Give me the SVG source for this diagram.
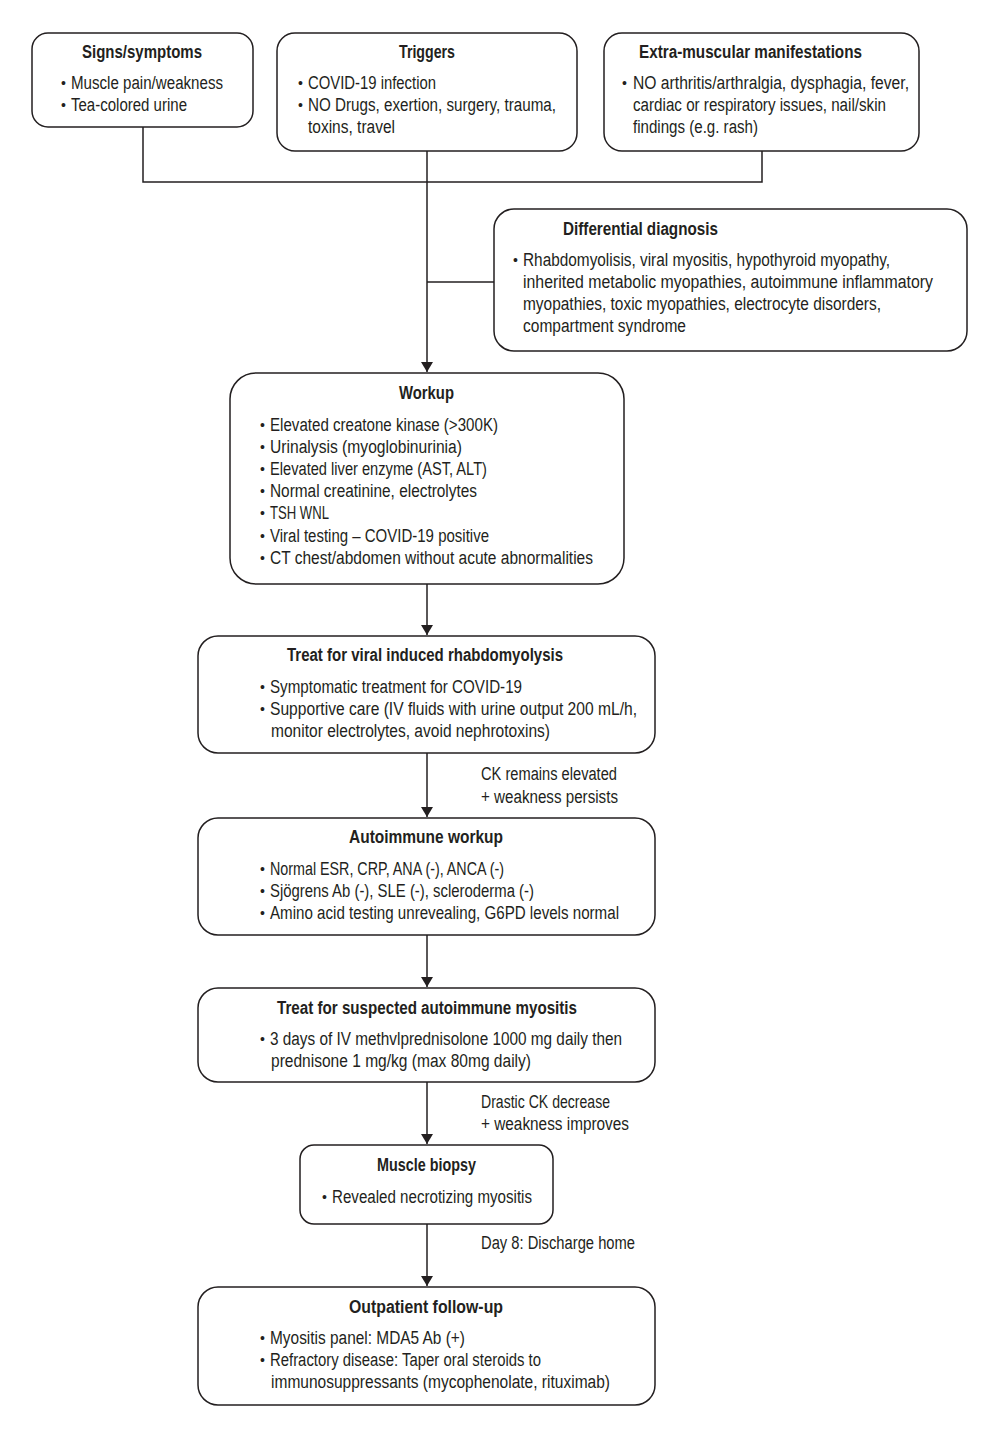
<svg xmlns="http://www.w3.org/2000/svg" width="1000" height="1440" viewBox="0 0 1000 1440">
<style>
text{font-family:'Liberation Sans',Arial,sans-serif;font-size:18px;fill:#231f20}
.t{font-weight:bold}
.b{font-size:14px}
.box{fill:#fff;stroke:#231f20;stroke-width:1.5}
.ln{fill:none;stroke:#231f20;stroke-width:1.5}
</style>
<defs>
<marker id="ah" markerWidth="10" markerHeight="12" refX="10" refY="6" orient="auto" markerUnits="userSpaceOnUse">
<path d="M0,0 L10,6 L0,12 Z" fill="#231f20"/>
</marker>
</defs>
<rect width="1000" height="1440" fill="#fff"/>
<g id="connectors">
<path class="ln" d="M143,127 V182 H762 V151"/>
<path class="ln" d="M427,151 V372" marker-end="url(#ah)"/>
<path class="ln" d="M427,282 H494"/>
<path class="ln" d="M427,584 V635" marker-end="url(#ah)"/>
<path class="ln" d="M427,753 V817" marker-end="url(#ah)"/>
<path class="ln" d="M427,935 V987" marker-end="url(#ah)"/>
<path class="ln" d="M427,1082 V1144" marker-end="url(#ah)"/>
<path class="ln" d="M427,1224 V1286" marker-end="url(#ah)"/>
<text x="481" y="780" textLength="136" lengthAdjust="spacingAndGlyphs">CK remains elevated</text>
<text x="481" y="803" textLength="137" lengthAdjust="spacingAndGlyphs">+ weakness persists</text>
<text x="481" y="1108" textLength="129" lengthAdjust="spacingAndGlyphs">Drastic CK decrease</text>
<text x="481" y="1130" textLength="148" lengthAdjust="spacingAndGlyphs">+ weakness improves</text>
<text x="481" y="1249" textLength="154" lengthAdjust="spacingAndGlyphs">Day 8: Discharge home</text>
</g>
<g id="signs">
<rect class="box" x="32" y="33" width="221" height="94" rx="16"/>
<text class="t" x="82" y="58" textLength="120" lengthAdjust="spacingAndGlyphs">Signs/symptoms</text>
<text class="b" x="61" y="88">•</text><text x="71" y="89" textLength="152" lengthAdjust="spacingAndGlyphs">Muscle pain/weakness</text>
<text class="b" x="61" y="110">•</text><text x="71" y="111" textLength="116" lengthAdjust="spacingAndGlyphs">Tea-colored urine</text>
</g>
<g id="triggers">
<rect class="box" x="277" y="33" width="300" height="118" rx="18"/>
<text class="t" x="399" y="58" textLength="56" lengthAdjust="spacingAndGlyphs">Triggers</text>
<text class="b" x="298" y="88">•</text><text x="308" y="89" textLength="128" lengthAdjust="spacingAndGlyphs">COVID-19 infection</text>
<text class="b" x="298" y="110">•</text><text x="308" y="111" textLength="248" lengthAdjust="spacingAndGlyphs">NO Drugs, exertion, surgery, trauma,</text>
<text x="308" y="133" textLength="87" lengthAdjust="spacingAndGlyphs">toxins, travel</text>
</g>
<g id="extra">
<rect class="box" x="604" y="33" width="315" height="118" rx="18"/>
<text class="t" x="639" y="58" textLength="223" lengthAdjust="spacingAndGlyphs">Extra-muscular manifestations</text>
<text class="b" x="622" y="88">•</text><text x="633" y="89" textLength="276" lengthAdjust="spacingAndGlyphs">NO arthritis/arthralgia, dysphagia, fever,</text>
<text x="633" y="111" textLength="253" lengthAdjust="spacingAndGlyphs">cardiac or respiratory issues, nail/skin</text>
<text x="633" y="133" textLength="125" lengthAdjust="spacingAndGlyphs">findings (e.g. rash)</text>
</g>
<g id="differential">
<rect class="box" x="494" y="209" width="473" height="142" rx="20"/>
<text class="t" x="563" y="235" textLength="155" lengthAdjust="spacingAndGlyphs">Differential diagnosis</text>
<text class="b" x="513" y="265">•</text><text x="523" y="266" textLength="367" lengthAdjust="spacingAndGlyphs">Rhabdomyolisis, viral myositis, hypothyroid myopathy,</text>
<text x="523" y="288" textLength="410" lengthAdjust="spacingAndGlyphs">inherited metabolic myopathies, autoimmune inflammatory</text>
<text x="523" y="310" textLength="358" lengthAdjust="spacingAndGlyphs">myopathies, toxic myopathies, electrocyte disorders,</text>
<text x="523" y="332" textLength="163" lengthAdjust="spacingAndGlyphs">compartment syndrome</text>
</g>
<g id="workup">
<rect class="box" x="230" y="373" width="394" height="211" rx="26"/>
<text class="t" x="399" y="399" textLength="55" lengthAdjust="spacingAndGlyphs">Workup</text>
<text class="b" x="260" y="430">•</text><text x="270" y="431" textLength="228" lengthAdjust="spacingAndGlyphs">Elevated creatone kinase (&gt;300K)</text>
<text class="b" x="260" y="452">•</text><text x="270" y="453" textLength="192" lengthAdjust="spacingAndGlyphs">Urinalysis (myoglobinurinia)</text>
<text class="b" x="260" y="474">•</text><text x="270" y="475" textLength="217" lengthAdjust="spacingAndGlyphs">Elevated liver enzyme (AST, ALT)</text>
<text class="b" x="260" y="496">•</text><text x="270" y="497" textLength="207" lengthAdjust="spacingAndGlyphs">Normal creatinine, electrolytes</text>
<text class="b" x="260" y="518">•</text><text x="270" y="519" textLength="59" lengthAdjust="spacingAndGlyphs">TSH WNL</text>
<text class="b" x="260" y="541">•</text><text x="270" y="542" textLength="219" lengthAdjust="spacingAndGlyphs">Viral testing – COVID-19 positive</text>
<text class="b" x="260" y="563">•</text><text x="270" y="564" textLength="323" lengthAdjust="spacingAndGlyphs">CT chest/abdomen without acute abnormalities</text>
</g>
<g id="treat-viral">
<rect class="box" x="198" y="636" width="457" height="117" rx="20"/>
<text class="t" x="287" y="661" textLength="276" lengthAdjust="spacingAndGlyphs">Treat for viral induced rhabdomyolysis</text>
<text class="b" x="260" y="692">•</text><text x="270" y="693" textLength="252" lengthAdjust="spacingAndGlyphs">Symptomatic treatment for COVID-19</text>
<text class="b" x="260" y="714">•</text><text x="270" y="715" textLength="367" lengthAdjust="spacingAndGlyphs">Supportive care (IV fluids with urine output 200 mL/h,</text>
<text x="271" y="737" textLength="279" lengthAdjust="spacingAndGlyphs">monitor electrolytes, avoid nephrotoxins)</text>
</g>
<g id="autoimmune">
<rect class="box" x="198" y="818" width="457" height="117" rx="20"/>
<text class="t" x="349" y="843" textLength="154" lengthAdjust="spacingAndGlyphs">Autoimmune workup</text>
<text class="b" x="260" y="874">•</text><text x="270" y="875" textLength="234" lengthAdjust="spacingAndGlyphs">Normal ESR, CRP, ANA (-), ANCA (-)</text>
<text class="b" x="260" y="896">•</text><text x="270" y="897" textLength="264" lengthAdjust="spacingAndGlyphs">Sjögrens Ab (-), SLE (-), scleroderma (-)</text>
<text class="b" x="260" y="918">•</text><text x="270" y="919" textLength="349" lengthAdjust="spacingAndGlyphs">Amino acid testing unrevealing, G6PD levels normal</text>
</g>
<g id="treat-suspected">
<rect class="box" x="198" y="988" width="457" height="94" rx="20"/>
<text class="t" x="277" y="1014" textLength="300" lengthAdjust="spacingAndGlyphs">Treat for suspected autoimmune myositis</text>
<text class="b" x="260" y="1044">•</text><text x="270" y="1045" textLength="352" lengthAdjust="spacingAndGlyphs">3 days of IV methvlprednisolone 1000 mg daily then</text>
<text x="271" y="1067" textLength="260" lengthAdjust="spacingAndGlyphs">prednisone 1 mg/kg (max 80mg daily)</text>
</g>
<g id="biopsy">
<rect class="box" x="300" y="1145" width="253" height="79" rx="14"/>
<text class="t" x="377" y="1171" textLength="99" lengthAdjust="spacingAndGlyphs">Muscle biopsy</text>
<text class="b" x="322" y="1202">•</text><text x="332" y="1203" textLength="200" lengthAdjust="spacingAndGlyphs">Revealed necrotizing myositis</text>
</g>
<g id="outpatient">
<rect class="box" x="198" y="1287" width="457" height="118" rx="20"/>
<text class="t" x="349" y="1313" textLength="154" lengthAdjust="spacingAndGlyphs">Outpatient follow-up</text>
<text class="b" x="260" y="1343">•</text><text x="270" y="1344" textLength="195" lengthAdjust="spacingAndGlyphs">Myositis panel: MDA5 Ab (+)</text>
<text class="b" x="260" y="1365">•</text><text x="270" y="1366" textLength="271" lengthAdjust="spacingAndGlyphs">Refractory disease: Taper oral steroids to</text>
<text x="271" y="1388" textLength="339" lengthAdjust="spacingAndGlyphs">immunosuppressants (mycophenolate, rituximab)</text>
</g>
</svg>
